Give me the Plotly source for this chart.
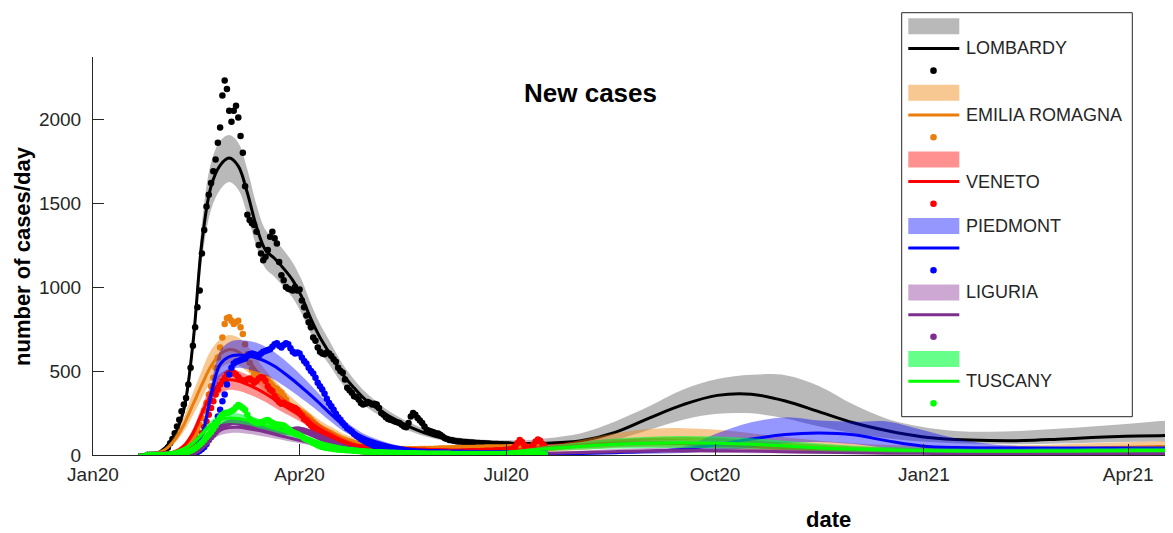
import pandas as pd
import plotly.graph_objects as go

# ---------------- data ----------------
base_date = "2020-01-01"
obs_start = "2020-01-25"

model_days = [20, 24, 28, 32, 36, 40, 44, 48, 52, 56, 60, 64, 68, 72, 76, 80, 84, 88, 92, 96, 100,
              105, 110, 115, 120, 130, 140, 150, 160, 170, 180, 190, 200,
              215, 230, 245, 260, 275, 290, 305, 320, 335, 350, 365, 380, 395, 410, 425, 440, 455, 470, 480]

regions = ["LOMBARDY", "EMILIA ROMAGNA", "VENETO", "PIEDMONT", "LIGURIA", "TUSCANY"]

lombardy_fit = [0, 3, 10, 45, 120, 270, 660, 1270, 1600, 1725, 1768, 1720, 1560, 1360, 1220, 1170, 1110, 1040, 940, 810, 700,
                590, 480, 400, 330, 235, 165, 115, 88, 75, 70, 68, 70,
                85, 135, 220, 300, 355, 362, 322, 257, 192, 144, 109, 92, 86, 86, 94, 104, 111, 115, 118]
lombardy_hi = [0, 4, 12, 52, 135, 300, 720, 1380, 1740, 1870, 1905, 1860, 1700, 1490, 1340, 1285, 1220, 1145, 1040, 900, 780,
               660, 540, 450, 375, 265, 190, 135, 105, 92, 88, 88, 100,
               130, 200, 290, 390, 452, 478, 475, 410, 300, 215, 168, 143, 138, 145, 156, 170, 185, 202, 212]
lombardy_lo = [0, 2, 8, 38, 105, 240, 600, 1160, 1460, 1580, 1625, 1580, 1430, 1240, 1110, 1060, 1000, 935, 840, 720, 620,
               520, 420, 350, 290, 205, 140, 98, 74, 62, 56, 52, 52,
               60, 90, 150, 210, 245, 248, 218, 170, 130, 100, 80, 70, 65, 64, 68, 73, 77, 80, 82]

emilia_fit = [0, 3, 12, 35, 90, 180, 300, 420, 530, 600, 628, 615, 570, 500, 440, 385, 335, 290, 250, 210, 175,
              140, 105, 82, 65, 42, 28, 20, 16, 15, 17, 22, 32,
              55, 80, 95, 98, 92, 80, 65, 52, 42, 36, 33, 32, 33, 35, 38, 42, 46, 50, 52]
emilia_hi = [0, 4, 15, 45, 115, 225, 370, 505, 625, 690, 715, 700, 650, 575, 505, 445, 388, 336, 290, 246, 206,
             166, 128, 101, 80, 54, 37, 28, 23, 23, 27, 35, 52,
             90, 130, 155, 160, 150, 130, 105, 85, 70, 60, 55, 54, 55, 58, 63, 70, 76, 82, 85]
emilia_lo = [0, 2, 9, 27, 70, 140, 235, 340, 440, 515, 545, 535, 495, 430, 378, 330, 285, 245, 210, 175, 145,
             115, 85, 65, 50, 31, 20, 13, 10, 9, 10, 13, 18,
             30, 45, 55, 56, 52, 45, 37, 29, 23, 20, 18, 17, 18, 19, 21, 23, 25, 27, 28]

veneto_fit = [0, 1, 3, 8, 20, 55, 130, 250, 360, 425, 448, 440, 420, 395, 365, 330, 295, 262, 228, 190, 155,
              118, 85, 60, 45, 25, 16, 12, 12, 15, 22, 32, 45,
              60, 70, 72, 68, 60, 50, 40, 32, 26, 22, 20, 19, 19, 20, 21, 22, 24, 25, 26]
veneto_hi = [0, 1, 4, 10, 25, 68, 155, 290, 415, 485, 510, 500, 478, 450, 418, 380, 340, 302, 264, 222, 182,
             140, 102, 74, 56, 33, 22, 17, 17, 21, 30, 44, 62,
             82, 95, 98, 93, 82, 70, 57, 46, 38, 33, 30, 29, 29, 30, 31, 33, 35, 37, 38]
veneto_lo = [0, 0, 2, 6, 15, 42, 105, 210, 305, 365, 388, 382, 365, 342, 315, 283, 252, 224, 193, 160, 130,
             98, 70, 48, 35, 18, 11, 8, 8, 10, 15, 22, 30,
             40, 46, 48, 45, 40, 33, 26, 21, 17, 14, 13, 12, 12, 13, 13, 14, 15, 16, 16]

piedmont_fit = [0, 0, 1, 2, 5, 12, 35, 120, 360, 540, 585, 595, 590, 578, 558, 528, 490, 448, 402, 355, 305,
                240, 180, 135, 100, 58, 33, 17, 10, 7, 6, 6, 7,
                9, 14, 22, 35, 62, 95, 122, 131, 120, 84, 54, 44, 42, 42, 42, 42, 42, 42, 42]
piedmont_hi = [0, 0, 1, 3, 7, 16, 45, 150, 420, 620, 672, 685, 680, 668, 645, 612, 570, 522, 470, 415, 358,
               285, 215, 163, 122, 72, 42, 23, 14, 10, 9, 9, 11,
               16, 24, 30, 50, 130, 195, 224, 205, 198, 200, 150, 98, 65, 52, 47, 45, 44, 44, 44]
piedmont_lo = [0, 0, 0, 1, 3, 8, 25, 90, 300, 460, 505, 520, 512, 495, 475, 448, 412, 375, 335, 295, 252,
               196, 145, 108, 80, 45, 25, 12, 7, 5, 4, 4, 4,
               5, 6, 8, 12, 25, 45, 70, 78, 65, 40, 28, 25, 24, 24, 24, 24, 24, 24, 24]

liguria_fit = [0, 0, 1, 2, 5, 10, 25, 60, 110, 148, 163, 165, 158, 148, 136, 123, 110, 97, 84, 72, 60,
               47, 36, 27, 20, 11, 7, 5, 4, 4, 5, 7, 10,
               15, 20, 24, 26, 26, 24, 20, 16, 13, 11, 10, 9, 9, 9, 9, 9, 9, 9, 9]
liguria_hi = [0, 0, 1, 3, 6, 13, 32, 75, 135, 180, 198, 200, 192, 180, 165, 150, 134, 118, 102, 88, 73,
              57, 44, 33, 25, 14, 9, 7, 6, 6, 8, 11, 16,
              25, 35, 42, 46, 46, 42, 35, 28, 22, 18, 16, 15, 14, 14, 14, 14, 14, 14, 14]
liguria_lo = [0, 0, 0, 1, 4, 8, 18, 45, 88, 118, 130, 132, 126, 118, 108, 98, 88, 77, 67, 57, 48,
              37, 28, 21, 15, 8, 5, 3, 2, 2, 3, 4, 5,
              7, 9, 11, 12, 12, 11, 9, 7, 6, 5, 5, 4, 4, 4, 4, 4, 4, 4, 4]

tuscany_fit = [0, 1, 3, 8, 18, 38, 70, 125, 180, 210, 220, 217, 207, 192, 175, 158, 142, 126, 110, 92, 75,
               58, 45, 36, 29, 20, 15, 12, 11, 12, 15, 25, 38,
               52, 64, 70, 73, 70, 64, 54, 42, 35, 30, 27, 24, 23, 23, 24, 25, 26, 27, 28]
tuscany_hi = [0, 1, 4, 10, 22, 45, 82, 145, 205, 238, 250, 247, 236, 220, 200, 181, 163, 145, 127, 106, 87,
              68, 53, 43, 35, 25, 19, 16, 15, 17, 22, 36, 55,
              78, 98, 108, 113, 110, 100, 85, 68, 55, 47, 42, 38, 37, 37, 38, 40, 42, 43, 45]
tuscany_lo = [0, 0, 2, 6, 14, 31, 58, 105, 155, 182, 190, 187, 178, 164, 150, 135, 121, 107, 93, 78, 63,
              48, 37, 29, 23, 15, 11, 8, 7, 8, 9, 15, 24,
              32, 38, 41, 42, 40, 37, 31, 24, 20, 17, 15, 14, 13, 13, 14, 14, 15, 15, 16]

# daily observed new cases from 2020-01-25
lombardy_obs = [0, 0, 0, 1, 1, 2,
                3, 8, 20, 45, 70, 95, 130, 170, 210, 260,
                300, 340, 420, 520, 650, 760, 880, 980, 1200, 1340,
                1480, 1550, 1620, 1690, 1760, 1860, 1950, 2140, 2230, 2180,
                2050, 1985, 2050, 2080, 2010, 1900, 1800, 1600, 1430, 1400,
                1380, 1370, 1330, 1250, 1200, 1160, 1180, 1220, 1300, 1330,
                1290, 1260, 1150, 1070, 1040, 1000, 990, 985, 980, 1000,
                980, 985, 920, 880, 830, 790, 760, 700, 680, 640,
                615, 605, 600, 610, 605, 590, 570, 555, 520, 500,
                490, 450, 400, 385, 370, 350, 345, 330, 310, 300,
                305, 315, 310, 300, 305, 300, 280, 250, 240, 225,
                215, 210, 205, 200, 195, 190, 180, 170, 165, 190,
                230, 250, 240, 220, 205, 190, 170, 150, 145, 140,
                135, 130, 128, 120, 110, 100, 95, 90, 88, 85,
                82, 80, 80, 78, 78, 76, 75, 75, 73, 72,
                72, 70, 70, 68, 68, 67, 66, 65, 65, 64,
                64, 63, 62, 62, 61, 60, 60, 58, 58, 57,
                57, 56, 56, 55, 55, 55, 54, 54, 53, 53]
emilia_obs = [0, 0, 0, 0, 0, 1,
              1, 2, 3, 4, 5, 6, 8, 10, 15, 22,
              30, 40, 55, 70, 90, 115, 145, 180, 220, 265,
              310, 360, 410, 460, 520, 580, 640, 700, 780, 815,
              820, 800, 780, 790, 800, 760, 720, 660, 600, 550,
              510, 480, 470, 460, 455, 450, 460, 445, 430, 415,
              400, 395, 380, 370, 350, 330, 300, 290, 280, 275,
              270, 262, 255, 245, 235, 225, 212, 198, 185, 172,
              160, 150, 140, 130, 122, 114, 106, 98, 92, 86,
              80, 75, 70, 66, 62, 58, 55, 52, 50, 48,
              46, 45, 44, 43, 42, 41, 40, 40, 39, 38,
              38, 37, 37, 36, 36, 35, 35, 35, 34, 34,
              34, 34, 34, 34, 35, 35, 35, 35, 36, 36,
              36, 37, 37, 38, 38, 38, 39, 39, 40, 40,
              40, 40, 41, 41, 41, 42, 42, 42, 42, 43,
              43, 43, 43, 44, 44, 44, 44, 45, 45, 45,
              45, 45, 46, 46, 46, 46, 47, 47, 47, 47,
              48, 48, 48, 48, 49, 49, 49, 49, 50, 50]
veneto_obs = [0, 0, 0, 0, 0, 0,
              0, 1, 1, 2, 2, 3, 4, 5, 6, 8,
              10, 15, 20, 30, 40, 55, 75, 100, 130, 165,
              200, 240, 280, 320, 360, 390, 420, 440, 460, 480,
              490, 485, 490, 480, 465, 450, 445, 440, 450, 455,
              445, 430, 440, 455, 465, 460, 440, 410, 390, 380,
              350, 330, 315, 305, 310, 300, 295, 290, 285, 280,
              270, 250, 235, 215, 205, 190, 175, 160, 150, 140,
              130, 122, 115, 108, 102, 95, 88, 82, 76, 70,
              66, 62, 58, 55, 52, 50, 48, 46, 45, 44,
              42, 41, 40, 39, 38, 37, 36, 35, 34, 33,
              32, 32, 31, 31, 30, 30, 29, 29, 28, 28,
              28, 27, 27, 26, 26, 25, 25, 24, 24, 23,
              23, 22, 22, 22, 21, 21, 21, 20, 20, 20,
              20, 20, 20, 21, 21, 21, 22, 22, 22, 23,
              23, 24, 24, 25, 25, 26, 26, 27, 28, 28,
              29, 30, 31, 32, 34, 38, 50, 72, 90, 78,
              58, 45, 42, 48, 62, 80, 92, 85, 65, 50]
piedmont_obs = [0, 0, 0, 0, 0, 0,
                0, 0, 0, 0, 1, 1, 1, 2, 2, 3,
                4, 5, 6, 8, 10, 14, 18, 25, 35, 48,
                65, 90, 120, 155, 190, 230, 270, 320, 360, 420,
                480, 520, 545, 555, 560, 565, 570, 575, 590, 600,
                605, 600, 595, 590, 605, 615, 620, 625, 630, 645,
                660, 665, 650, 640, 655, 665, 660, 635, 615, 605,
                610, 605, 580, 560, 545, 520, 500, 485, 460, 430,
                410, 390, 365, 335, 310, 290, 270, 245, 225, 210,
                190, 175, 160, 150, 140, 125, 115, 105, 95, 88,
                80, 72, 66, 60, 55, 50, 47, 44, 41, 38,
                36, 34, 32, 30, 28, 27, 26, 25, 24, 23,
                22, 21, 20, 20, 19, 19, 18, 18, 17, 17,
                16, 16, 16, 15, 15, 15, 14, 14, 14, 14,
                13, 13, 13, 13, 12, 12, 12, 12, 12, 12,
                11, 11, 11, 11, 11, 11, 11, 10, 10, 10,
                10, 10, 10, 10, 10, 10, 10, 10, 10, 10,
                10, 10, 10, 10, 10, 10, 10, 10, 10, 10]
liguria_obs = [0, 0, 0, 0, 0, 0,
               0, 0, 0, 0, 0, 0, 1, 1, 2, 3,
               4, 5, 7, 10, 14, 20, 28, 38, 50, 62,
               75, 90, 105, 120, 135, 150, 160, 170, 180, 188,
               192, 196, 200, 198, 195, 192, 188, 185, 180, 176,
               172, 168, 165, 162, 160, 156, 152, 150, 148, 146,
               145, 144, 143, 142, 141, 140, 142, 145, 148, 150,
               152, 150, 148, 145, 140, 135, 130, 124, 118, 112,
               106, 100, 94, 88, 82, 76, 70, 64, 58, 52,
               47, 43, 39, 36, 33, 30, 28, 26, 24, 22,
               21, 20, 19, 18, 17, 16, 15, 14, 14, 13,
               13, 12, 12, 11, 11, 11, 10, 10, 10, 10,
               9, 9, 9, 9, 8, 8, 8, 8, 8, 8,
               8, 7, 7, 7, 7, 7, 7, 7, 6, 6,
               6, 6, 6, 6, 6, 6, 6, 6, 6, 6,
               6, 6, 6, 6, 6, 6, 6, 6, 6, 6,
               6, 6, 6, 6, 6, 6, 6, 6, 6, 6,
               6, 6, 6, 6, 6, 6, 6, 6, 6, 6]
tuscany_obs = [0, 0, 0, 0, 0, 0,
               0, 0, 0, 1, 1, 2, 3, 4, 5, 7,
               10, 14, 19, 25, 32, 40, 50, 62, 75, 90,
               105, 120, 135, 155, 175, 200, 225, 240, 250, 252,
               255, 262, 270, 285, 298, 290, 280, 268, 240, 215,
               205, 200, 192, 190, 195, 200, 205, 208, 200, 190,
               185, 182, 180, 178, 175, 165, 155, 145, 135, 130,
               125, 118, 110, 100, 92, 88, 80, 72, 65, 58,
               52, 48, 45, 42, 40, 38, 36, 34, 33, 32,
               31, 30, 29, 28, 27, 26, 25, 24, 23, 22,
               21, 20, 19, 18, 17, 17, 16, 16, 15, 15,
               14, 14, 13, 13, 12, 12, 12, 11, 11, 11,
               10, 10, 10, 9, 9, 9, 9, 8, 8, 8,
               8, 8, 7, 7, 7, 7, 7, 7, 6, 6,
               6, 6, 6, 6, 6, 6, 6, 6, 6, 6,
               6, 6, 6, 6, 6, 6, 6, 6, 6, 6,
               6, 6, 6, 6, 6, 6, 6, 6, 6, 6,
               6, 6, 6, 6, 6, 6, 6, 6, 6, 6]

x_tick_dates = ["2020-01-01", "2020-04-01", "2020-07-01", "2020-10-01", "2021-01-01", "2021-04-01"]
y_tick_vals = [0, 500, 1000, 1500, 2000]

# ---------------- styles ----------------
line_colors = ["rgb(0,0,0)", "rgb(235,125,10)", "rgb(255,0,0)", "rgb(0,0,255)", "rgb(126,47,142)", "rgb(0,255,0)"]
band_colors = ["rgba(0,0,0,0.275)", "rgba(237,133,13,0.45)", "rgba(255,0,0,0.43)",
               "rgba(0,0,255,0.41)", "rgba(126,47,142,0.41)", "rgba(0,255,60,0.6)"]
band_swatch = ["rgb(185,185,185)", "rgb(247,200,146)", "rgb(255,145,145)",
               "rgb(150,150,255)", "rgb(204,168,210)", "rgb(102,255,138)"]

fits = [lombardy_fit, emilia_fit, veneto_fit, piedmont_fit, liguria_fit, tuscany_fit]
his = [lombardy_hi, emilia_hi, veneto_hi, piedmont_hi, liguria_hi, tuscany_hi]
los = [lombardy_lo, emilia_lo, veneto_lo, piedmont_lo, liguria_lo, tuscany_lo]
obss = [lombardy_obs, emilia_obs, veneto_obs, piedmont_obs, liguria_obs, tuscany_obs]

base = pd.Timestamp(base_date)
model_dates = [base + pd.Timedelta(days=d) for d in model_days]

fig = go.Figure()
for i in range(len(regions)):
    fig.add_trace(go.Scatter(x=model_dates, y=los[i], mode="lines",
                             line=dict(width=0, shape="spline", color=band_colors[i]),
                             hoverinfo="skip", showlegend=False))
    fig.add_trace(go.Scatter(x=model_dates, y=his[i], mode="lines", fill="tonexty",
                             fillcolor=band_colors[i],
                             line=dict(width=0, shape="spline", color=band_colors[i]),
                             hoverinfo="skip", showlegend=False))
    fig.add_trace(go.Scatter(x=model_dates, y=fits[i], mode="lines", name=regions[i],
                             line=dict(width=3, shape="spline", color=line_colors[i]),
                             showlegend=False))
    obs_dates = pd.date_range(obs_start, periods=len(obss[i]), freq="D")
    fig.add_trace(go.Scatter(x=obs_dates, y=obss[i], mode="markers",
                             marker=dict(size=6.5, color=line_colors[i], line=dict(width=0)),
                             showlegend=False))

# ---------------- layout ----------------
# the page has an 8px body margin, so the figure is 8px smaller than the window
OFF = 8
W, H = 1165, 525
L, R, T, B = 85, 0, 49, 78
PW, PH = W - L - R, H - T - B


def px(x):
    # x given in window pixels
    return (x - OFF - L) / PW


def py(y):
    # y given in window pixels
    return (H - B - (y - OFF)) / PH


axis_col = "#262626"
fig.update_layout(
    width=W, height=H,
    margin=dict(l=L, r=R, t=T, b=B, pad=0),
    paper_bgcolor="white", plot_bgcolor="white",
    font=dict(family="Liberation Sans, Arial, sans-serif", color=axis_col),
    showlegend=False,
    xaxis=dict(range=["2020-01-01", "2021-04-20 18:00"], tickvals=x_tick_dates, tickformat="%b%y",
               ticks="inside", ticklen=11, tickwidth=1, tickcolor=axis_col,
               showline=True, linecolor=axis_col, linewidth=1, showgrid=False, zeroline=False,
               tickfont=dict(size=19, color=axis_col), ticklabelstandoff=2),
    yaxis=dict(range=[0, 2370], tickvals=y_tick_vals,
               ticks="inside", ticklen=11, tickwidth=1, tickcolor=axis_col,
               showline=True, linecolor=axis_col, linewidth=1, showgrid=False, zeroline=False,
               tickfont=dict(size=19, color=axis_col), ticklabelstandoff=7),
)

annotations = [
    dict(text="<b>New cases</b>", x=px(590), y=py(93), xref="paper", yref="paper",
         showarrow=False, font=dict(size=26, color="black"), xanchor="center", yanchor="middle"),
    dict(text="<b>date</b>", x=px(828), y=py(519), xref="paper", yref="paper",
         showarrow=False, font=dict(size=22, color="black"), xanchor="center", yanchor="middle"),
    dict(text="<b>number of cases/day</b>", x=px(22), y=py(256), xref="paper", yref="paper",
         showarrow=False, font=dict(size=22, color="black"), textangle=-90,
         xanchor="center", yanchor="middle"),
]

# legend (drawn manually, MATLAB style: patch, line, marker per region)
shapes = [dict(type="rect", xref="paper", yref="paper", x0=px(901.7), x1=px(1132.3),
               y0=py(416.7), y1=py(12.7), fillcolor="white",
               line=dict(color=axis_col, width=1), layer="above")]
row0, dy = 26.3, 22.18
sx0, sx1, sxc = 908.3, 959.3, 933.5
label_rows = {0: 1, 1: 4, 2: 7, 3: 9, 4: 12, 5: 16}
for i in range(len(regions)):
    yb = row0 + dy * (3 * i)
    yl = row0 + dy * (3 * i + 1)
    yd = row0 + dy * (3 * i + 2)
    shapes.append(dict(type="rect", xref="paper", yref="paper", x0=px(sx0), x1=px(sx1),
                       y0=py(yb + 8), y1=py(yb - 8), fillcolor=band_swatch[i],
                       line=dict(width=0), layer="above"))
    shapes.append(dict(type="line", xref="paper", yref="paper", x0=px(sx0), x1=px(sx1),
                       y0=py(yl), y1=py(yl), line=dict(color=line_colors[i], width=3), layer="above"))
    shapes.append(dict(type="circle", xref="paper", yref="paper", x0=px(sxc - 3.3), x1=px(sxc + 3.3),
                       y0=py(yd + 3.3), y1=py(yd - 3.3), fillcolor=line_colors[i],
                       line=dict(width=0), layer="above"))
    yt = row0 + dy * label_rows[i]
    annotations.append(dict(text=regions[i], x=px(964.3), y=py(yt), xref="paper", yref="paper",
                            showarrow=False, font=dict(size=18, color=axis_col),
                            xanchor="left", yanchor="middle"))

fig.update_layout(shapes=shapes, annotations=annotations)
fig.write_html("out.html")
